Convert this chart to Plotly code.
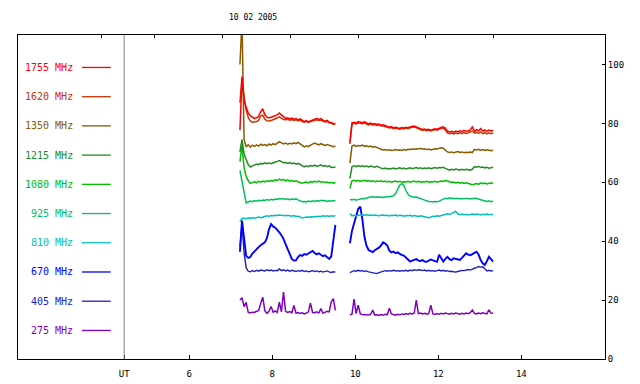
import plotly.graph_objects as go

# ---- time grids (UT hours) ----
T1 = [round(7.22 + 0.05 * k, 2) for k in range(47)]   # 7.22 .. 9.52
T2 = [round(9.87 + 0.05 * k, 2) for k in range(70)]   # 9.87 .. 13.32

LABELS = ["1755 MHz", "1620 MHz", "1350 MHz", "1215 MHz", "1080 MHz",
          "925 MHz", "810 MHz", "670 MHz", "405 MHz", "275 MHz"]
COLORS = ["#ff0000", "#cc3300", "#8b5a00", "#228b22", "#00c000",
          "#00c060", "#00c0c0", "#0000ff", "#2020c0", "#8000c0"]
WIDTHS = [1.5, 1.5, 1.5, 1.5, 1.5, 1.5, 1.5, 1.9, 1.4, 1.5]

F1755_A = [77.7, 95.5, 87.5, 85.5, 83.5, 82.6, 82.0, 81.6, 81.9, 82.4, 84.0, 84.8, 83.0, 82.1, 81.8, 82.0,
           82.3, 82.6, 82.9, 83.5, 82.9, 82.2, 81.7, 81.9, 81.5, 81.8, 81.4, 81.6, 81.2, 81.5, 80.9, 80.6,
           80.9, 80.5, 80.8, 81.1, 81.4, 81.7, 81.3, 81.6, 81.1, 80.7, 81.0, 80.4, 80.3, 79.8, 80.0]
F1755_B = [73.5, 80.2, 80.4, 80.1, 80.6, 80.4, 80.2, 80.5, 80.0, 79.8, 80.1, 79.7, 79.9, 79.6, 79.8, 79.4,
           79.5, 79.2, 78.9, 78.7, 78.9, 78.5, 78.7, 78.4, 78.3, 78.6, 78.4, 78.7, 78.5, 78.8, 78.9, 79.1,
           78.8, 78.4, 78.2, 77.9, 78.1, 77.8, 78.0, 77.7, 77.9, 78.2, 78.0, 78.4, 78.6, 78.8, 78.3, 77.4,
           77.1, 77.3, 77.0, 77.4, 77.1, 77.5, 77.2, 77.6, 77.3, 77.5, 77.8, 78.8, 77.4, 77.9, 77.5, 78.2,
           77.4, 77.8, 77.3, 77.7, 77.4, 77.6]

F1620_A = [87.0, 96.0, 89.0, 84.5, 82.0, 80.8, 80.4, 80.5, 80.6, 81.0, 82.5, 82.8, 81.5, 80.9, 80.8, 81.0,
           81.2, 81.4, 81.8, 82.2, 81.8, 81.3, 81.2, 81.4, 81.1, 81.3, 81.0, 81.2, 80.9, 81.1, 80.6, 80.4,
           80.7, 80.3, 80.6, 80.8, 81.0, 81.2, 81.0, 81.1, 80.8, 80.5, 80.7, 80.2, 80.1, 79.7, 79.8]
F1620_B = [73.0, 79.8, 80.0, 79.8, 80.2, 80.0, 79.9, 80.1, 79.7, 79.5, 79.8, 79.4, 79.6, 79.3, 79.5, 79.1,
           79.2, 78.9, 78.6, 78.4, 78.6, 78.2, 78.4, 78.1, 78.0, 78.3, 78.1, 78.4, 78.2, 78.5, 78.6, 78.8,
           78.5, 78.1, 77.9, 77.6, 77.8, 77.5, 77.7, 77.4, 77.6, 77.9, 77.7, 78.1, 78.3, 78.4, 77.8, 76.8,
           76.5, 76.7, 76.4, 76.7, 76.5, 76.8, 76.5, 76.9, 76.6, 76.8, 77.0, 77.4, 76.7, 77.0, 76.6, 77.1,
           76.5, 76.9, 76.4, 76.8, 76.5, 76.7]

F1350_A = [100.0, 115.0, 74.5, 72.0, 72.8, 71.9, 72.6, 72.2, 72.7, 72.3, 72.9, 72.5, 72.8, 72.4, 73.0, 72.6,
           73.1, 72.8, 73.3, 73.8, 73.4, 73.0, 73.3, 72.9, 73.2, 73.0, 73.4, 73.1, 73.5, 73.0, 72.5, 72.0,
           72.4, 72.1, 72.6, 72.9, 73.3, 73.0, 72.7, 73.1, 72.8, 72.5, 72.8, 72.6, 72.3, 72.1, 72.3]
F1350_B = [66.5, 72.3, 72.6, 72.2, 72.5, 72.3, 72.6, 72.2, 72.4, 72.1, 72.3, 71.9, 72.1, 71.7, 71.5, 71.2,
           71.0, 71.1, 70.9, 71.0, 70.8, 70.9, 71.1, 70.9, 71.0, 70.8, 71.1, 70.9, 71.2, 71.1, 71.3, 71.2,
           71.4, 71.3, 71.5, 71.2, 71.4, 71.1, 71.3, 71.0, 71.2, 71.4, 71.3, 71.5, 71.7, 71.6, 71.0, 70.3,
           70.1, 70.3, 70.0, 70.2, 70.4, 70.1, 70.3, 70.0, 70.2, 70.1, 70.3, 70.1, 71.2, 71.0, 71.2, 70.9,
           71.1, 70.8, 71.0, 70.9, 70.7, 70.9]

F1215_A = [70.3, 74.5, 69.5, 67.5, 66.0, 65.2, 65.5, 65.9, 66.2, 66.0, 66.4, 66.2, 66.6, 66.3, 66.5, 66.3,
           66.7, 66.9, 67.1, 67.4, 67.0, 66.6, 66.8, 66.4, 66.7, 66.3, 66.5, 66.2, 66.4, 65.9, 65.4, 65.2,
           65.6, 65.3, 65.7, 65.5, 65.8, 65.4, 65.6, 65.9, 65.5, 65.7, 65.3, 65.6, 65.1, 65.0, 65.2]
F1215_B = [61.3, 65.3, 65.6, 65.3, 65.7, 65.4, 65.6, 65.3, 65.5, 65.2, 65.5, 65.3, 65.1, 65.4, 65.0, 64.8,
           64.6, 64.8, 64.5, 64.7, 64.6, 64.8, 64.5, 64.7, 64.9, 64.6, 64.8, 64.5, 64.7, 64.9, 64.6, 64.8,
           65.0, 64.7, 64.9, 64.6, 64.8, 64.7, 64.9, 64.6, 64.8, 65.0, 64.8, 65.0, 64.9, 65.1, 64.7, 64.3,
           64.1, 64.4, 64.2, 64.5, 64.3, 64.1, 64.4, 64.2, 64.4, 64.3, 64.1, 64.4, 65.3, 65.1, 65.4, 65.0,
           65.2, 64.9, 65.1, 64.8, 65.0, 65.1]

F1080_A = [67.0, 72.5, 65.0, 62.0, 60.5, 59.6, 59.9, 60.2, 59.8, 60.3, 60.0, 60.4, 60.1, 60.5, 60.3, 60.6,
           60.4, 60.8, 60.6, 61.1, 60.7, 60.9, 60.5, 60.8, 60.4, 60.6, 60.3, 60.5, 60.2, 60.0, 59.7, 59.9,
           60.1, 59.8, 60.2, 60.0, 60.3, 60.1, 60.4, 60.0, 60.2, 59.9, 60.1, 59.8, 60.0, 59.7, 59.9]
F1080_B = [57.9, 60.5, 60.7, 60.4, 60.6, 60.3, 60.5, 60.7, 60.4, 60.6, 60.3, 60.5, 60.2, 60.4, 60.3, 60.5,
           60.2, 60.4, 60.1, 60.3, 60.0, 60.2, 60.4, 60.1, 60.3, 60.0, 60.2, 60.1, 60.3, 60.0, 60.2, 60.4,
           60.1, 60.3, 60.0, 60.2, 60.1, 60.3, 60.0, 60.2, 60.1, 60.3, 60.0, 60.2, 60.4, 60.3, 60.6, 60.4,
           60.1, 59.9, 60.1, 59.8, 60.0, 59.7, 59.9, 59.6, 59.8, 59.5, 59.4, 59.2, 59.4, 59.6, 59.3, 59.8,
           59.5, 59.7, 59.4, 59.6, 59.8, 59.6]

F925_A = [64.0, 60.0, 56.0, 53.0, 53.3, 53.6, 53.4, 53.8, 53.6, 53.9, 53.7, 54.0, 53.8, 54.1, 53.9, 54.2,
          54.0, 54.3, 54.2, 54.5, 54.3, 54.5, 54.2, 54.4, 54.1, 54.3, 54.2, 54.4, 54.0, 53.8, 53.4, 53.5,
          53.3, 53.6, 53.4, 53.7, 53.5, 53.8, 53.6, 53.9, 53.7, 53.8, 53.5, 53.7, 53.6, 53.8, 53.7]
F925_B = [54.2, 54.0, 54.2, 53.9, 54.1, 54.3, 54.5, 54.4, 54.7, 54.8, 55.0, 55.1, 54.9, 55.1, 54.9, 55.0,
          54.8, 55.0, 55.2, 55.1, 55.3, 55.4, 56.2, 57.5, 59.0, 59.5, 59.0, 57.2, 55.9, 55.3, 55.1, 54.9,
          55.0, 54.7, 54.5, 54.2, 54.0, 53.7, 53.5, 53.4, 53.4, 53.5, 53.4, 53.6, 53.9, 54.3, 54.6, 54.4,
          54.7, 54.5, 54.6, 54.4, 54.6, 54.3, 54.5, 54.4, 54.6, 54.3, 54.5, 54.4, 54.6, 54.5, 54.3, 54.2,
          54.0, 53.8, 53.5, 53.7, 53.4, 53.6]

F810_A = [46.6, 47.7, 47.8, 47.6, 47.9, 47.7, 48.0, 47.8, 48.0, 48.2, 48.0, 48.3, 48.4, 48.6, 48.5, 48.7,
          48.6, 48.8, 48.7, 48.9, 48.8, 48.7, 48.6, 48.8, 48.6, 48.5, 48.7, 48.4, 48.5, 48.2, 47.9, 48.0,
          48.2, 48.1, 48.3, 48.2, 48.4, 48.3, 48.5, 48.4, 48.6, 48.5, 48.6, 48.4, 48.6, 48.5, 48.7]
F810_B = [49.4, 48.6, 48.8, 48.6, 48.9, 48.7, 48.9, 48.8, 49.0, 48.8, 48.9, 48.7, 48.9, 48.8, 48.6, 48.8,
          48.9, 48.7, 48.8, 48.6, 48.8, 48.7, 48.9, 48.6, 48.8, 48.7, 48.5, 48.7, 48.6, 48.8, 48.5, 48.7,
          48.6, 48.4, 48.6, 48.5, 48.3, 48.2, 48.0, 48.2, 48.5, 48.4, 48.6, 48.5, 48.7, 48.9, 49.2, 49.3,
          49.1, 49.4, 49.7, 50.1, 49.3, 49.0, 49.2, 49.0, 49.1, 48.9, 49.1, 49.2, 49.0, 49.2, 49.1, 48.9,
          49.1, 49.0, 49.2, 49.0, 49.1, 49.1]

F670_A = [36.4, 47.0, 41.0, 35.0, 34.3, 34.6, 35.8, 36.6, 37.3, 38.0, 38.6, 39.0, 39.6, 41.0, 44.0, 45.8,
          45.0, 44.6, 43.9, 43.0, 42.0, 40.8, 39.0, 37.2, 35.5, 34.0, 33.4, 33.5, 34.6, 35.3, 35.0, 35.6,
          35.4, 35.8, 36.3, 36.7, 36.0, 35.5, 35.9, 35.3, 34.9, 35.2, 34.5, 34.0, 34.8, 40.0, 45.5]
F670_B = [39.3, 43.5, 46.0, 48.5, 51.0, 51.7, 47.5, 41.5, 38.5, 37.0, 36.6, 36.3, 36.9, 37.3, 37.8, 38.6,
          39.6, 39.2, 38.5, 36.8, 36.2, 36.5, 35.9, 36.2, 35.6, 35.3, 35.1, 34.5, 33.8, 33.1, 33.4, 33.7,
          33.9, 33.4, 33.3, 33.6, 33.1, 33.0, 33.4, 33.8, 33.5, 33.2, 33.0, 35.4, 34.2, 33.1, 34.0, 34.7,
          33.9, 33.6, 34.2, 34.0, 33.8, 33.6, 34.3, 35.0, 35.9, 35.4, 35.2, 35.6, 36.0, 36.4, 35.5, 33.6,
          32.5, 31.9, 33.2, 34.7, 33.9, 33.1]

F405_A = [38.0, 46.0, 36.0, 31.0, 29.8, 29.6, 30.0, 29.7, 30.1, 29.8, 30.2, 30.0, 29.9, 30.3, 30.0, 30.2,
          29.9, 30.1, 30.0, 30.6, 30.0, 30.3, 29.9, 30.2, 29.8, 30.1, 29.9, 29.7, 30.0, 29.8, 30.1, 29.7,
          29.9, 29.6, 29.8, 30.0, 29.7, 29.9, 29.6, 29.8, 29.5, 29.7, 29.9, 29.6, 29.4, 29.6, 29.5]
F405_B = [29.3, 29.8, 30.0, 29.8, 30.1, 29.9, 30.0, 29.7, 29.9, 29.6, 29.5, 29.3, 29.1, 29.0, 29.3, 29.6,
          29.8, 30.0, 29.8, 30.0, 29.9, 30.1, 29.9, 30.0, 29.8, 30.0, 29.9, 30.1, 29.8, 30.2, 30.0, 30.3,
          30.1, 30.3, 30.2, 30.0, 30.2, 29.9, 30.1, 29.9, 30.0, 29.8, 30.0, 30.2, 29.9, 30.1, 29.8, 30.0,
          29.7, 29.8, 29.6, 29.5, 29.7, 29.9, 30.1, 30.0, 30.2, 30.4, 30.2, 30.6, 30.8, 31.0, 31.4, 31.2,
          31.3, 30.6, 29.9, 30.1, 29.9, 30.0]

F275_A = [20.0, 20.8, 17.8, 19.2, 15.8, 15.6, 15.9, 15.8, 16.2, 16.4, 18.8, 21.0, 16.4, 15.5, 16.2, 17.8,
          15.9, 16.3, 15.8, 19.3, 16.0, 22.7, 16.2, 15.8, 16.1, 15.7, 18.2, 15.6, 15.8, 15.5, 15.7, 15.3,
          15.6, 16.0, 19.0, 15.8, 15.7, 16.0, 15.6, 17.1, 15.5, 15.8, 16.2, 16.0, 19.3, 20.5, 16.5]
F275_B = [15.0, 15.2, 20.3, 15.4, 18.3, 15.3, 15.1, 15.0, 14.8, 14.9, 15.2, 16.6, 14.9, 15.0, 14.8, 15.1,
          14.9, 15.2, 15.0, 17.2, 15.3, 15.1, 14.9, 15.2, 15.0, 15.3, 15.1, 15.4, 15.2, 15.5, 15.3, 15.6,
          20.0, 15.4, 15.6, 15.3, 15.5, 15.2, 15.4, 18.3, 15.3, 15.1, 15.4, 15.2, 15.5, 15.3, 15.6, 15.4,
          15.2, 15.5, 15.3, 15.6, 15.4, 15.2, 15.5, 15.3, 15.6, 15.4, 15.7, 16.6, 15.5, 15.3, 15.6, 15.4,
          15.7, 15.5, 15.3, 16.7, 15.6, 15.5]

SEG_A = [F1755_A, F1620_A, F1350_A, F1215_A, F1080_A, F925_A, F810_A, F670_A, F405_A, F275_A]
SEG_B = [F1755_B, F1620_B, F1350_B, F1215_B, F1080_B, F925_B, F810_B, F670_B, F405_B, F275_B]

X_TICKS = [4.43, 6, 8, 10, 12, 14]
X_TICKTEXT = ["UT", "6", "8", "10", "12", "14"]
TOP_TICKS = [3.89, 5.17, 6.80, 8.43, 10.07, 11.70, 13.33]
Y_TICKS = [0, 20, 40, 60, 80, 100]
UT_LINE = 4.43
X_RANGE = [1.872, 16.017]
Y_RANGE = [0, 110]

# legend placement (layout)
LEG_Y0, LEG_DY = 98.98, 9.92
LEG_LINE_X = (0.109, 0.158)
LEG_TEXT_X = 0.0976

FONT = "DejaVu Sans Mono"

fig = go.Figure()
for lab, col, w, a, b in reversed(list(zip(LABELS, COLORS, WIDTHS, SEG_A, SEG_B))):
    fig.add_trace(go.Scatter(x=T1 + [None] + T2, y=a + [None] + b, mode="lines",
                             line=dict(color=col, width=w), name=lab,
                             showlegend=False, connectgaps=False, hoverinfo="skip"))

# invisible trace for the top axis
fig.add_trace(go.Scatter(x=[X_RANGE[0]], y=[50], xaxis="x2", mode="markers",
                         marker=dict(opacity=0), showlegend=False, hoverinfo="skip"))

shapes = [dict(type="line", xref="x", yref="paper", x0=UT_LINE, x1=UT_LINE, y0=0, y1=1,
               line=dict(color="#808080", width=1))]
annotations = []
for i, (lab, col) in enumerate(zip(LABELS, COLORS)):
    yv = LEG_Y0 - LEG_DY * i
    shapes.append(dict(type="line", xref="paper", yref="y", x0=LEG_LINE_X[0], x1=LEG_LINE_X[1],
                       y0=yv, y1=yv, line=dict(color=col, width=1.3)))
    annotations.append(dict(text=lab, xref="paper", yref="y", x=LEG_TEXT_X, y=yv,
                            xanchor="right", yanchor="middle", showarrow=False,
                            font=dict(family=FONT, size=10, color=col)))

annotations.append(dict(text="10 02 2005", xref="paper", yref="paper", x=0.401, y=1.053,
                        xanchor="center", yanchor="middle", showarrow=False,
                        font=dict(family=FONT, size=8, color="black")))

fig.update_layout(
    width=640, height=384,
    margin=dict(l=18, r=35, t=35, b=25, autoexpand=False),
    paper_bgcolor="white", plot_bgcolor="white",
    showlegend=False,
    shapes=shapes, annotations=annotations,
    xaxis=dict(range=X_RANGE, tickvals=X_TICKS, ticktext=X_TICKTEXT, ticks="inside",
               ticklen=4, tickcolor="black", showgrid=False, zeroline=False,
               showline=True, linecolor="black", linewidth=1, mirror=True, automargin=False,
               tickfont=dict(family=FONT, size=9, color="black"), ticklabelstandoff=6),
    xaxis2=dict(range=X_RANGE, overlaying="x", side="top", tickvals=TOP_TICKS,
                ticks="inside", ticklen=3, tickcolor="black", showticklabels=False,
                showgrid=False, zeroline=False, showline=False, automargin=False),
    yaxis=dict(range=Y_RANGE, side="right", tickvals=Y_TICKS, ticks="inside", ticklen=3,
               tickcolor="black", showgrid=False, zeroline=False, automargin=False,
               showline=True, linecolor="black", linewidth=1, mirror=True,
               tickfont=dict(family=FONT, size=9, color="black")),
)

fig.write_html("out.html", config={"displayModeBar": False},
               post_script="document.body.style.margin='0';document.body.style.padding='0';")
